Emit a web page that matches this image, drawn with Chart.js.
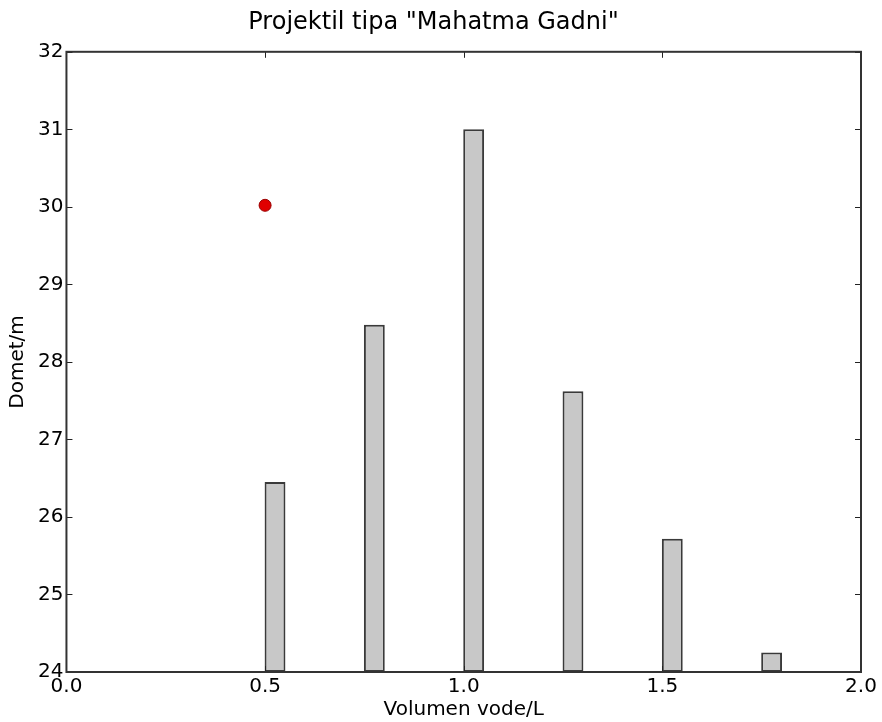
<!DOCTYPE html>
<html>
<head>
<meta charset="utf-8">
<script src="https://cdn.jsdelivr.net/npm/chart.js@4/dist/chart.umd.min.js"></script>
<style>
  html, body { margin: 0; padding: 0; background: #fff; }
  #wrap { width: 882px; height: 722px; }
</style>
</head>
<body>
<div id="wrap"><canvas id="myChart" width="882" height="722"></canvas></div>
<script>
// data
const barLefts = [0.5, 0.75, 1.0, 1.25, 1.5, 1.75];
const barWidth = 0.05;
const ranges = [26.45, 28.48, 31.0, 27.62, 25.72, 24.25];
const pointX = [0.5];
const pointY = [30.02];
const xTicks = [0.0, 0.5, 1.0, 1.5, 2.0];
const yTicks = [24, 25, 26, 27, 28, 29, 30, 31, 32];

const FONT = 'Verdana, "DejaVu Sans", sans-serif';

// matplotlib-like frame with inward ticks on all four sides
const frameTicks = {
  id: 'frameTicks',
  afterDatasetsDraw(chart) {
    const { ctx, chartArea: a, scales: { x, y } } = chart;
    const len = 6;
    ctx.save();
    ctx.strokeStyle = '#222';
    ctx.lineWidth = 1;
    ctx.beginPath();
    xTicks.forEach(v => {
      const px = Math.round(x.getPixelForValue(v)) + 0.5;
      ctx.moveTo(px, a.bottom); ctx.lineTo(px, a.bottom - len);
      ctx.moveTo(px, a.top); ctx.lineTo(px, a.top + len);
    });
    yTicks.forEach(v => {
      const py = Math.round(y.getPixelForValue(v)) + 0.5;
      ctx.moveTo(a.left, py); ctx.lineTo(a.left + len, py);
      ctx.moveTo(a.right, py); ctx.lineTo(a.right - len, py);
    });
    ctx.stroke();
    ctx.strokeStyle = '#333';
    ctx.lineWidth = 2;
    ctx.strokeRect(a.left, a.top, a.right - a.left, a.bottom - a.top);
    ctx.restore();
  }
};

const ctx = document.getElementById('myChart').getContext('2d');
new Chart(ctx, {
  type: 'bar',
  data: {
    datasets: [
      {
        type: 'scatter',
        data: pointX.map((v, i) => ({ x: v, y: pointY[i] })),
        backgroundColor: '#e00000',
        borderColor: '#9a0000',
        borderWidth: 1,
        pointRadius: 6,
        order: 0
      },
      {
        type: 'bar',
        data: barLefts.map((v, i) => ({ x: v + barWidth / 2, y: ranges[i] })),
        base: 24,
        backgroundColor: '#c8c8c8',
        borderColor: '#3a3a3a',
        borderWidth: 2,
        borderSkipped: false,
        categoryPercentage: 1,
        barPercentage: 0.21,
        order: 1
      }
    ]
  },
  options: {
    responsive: false,
    animation: false,
    layout: { padding: { left: 6, right: 21, top: 4, bottom: 0 } },
    plugins: {
      legend: { display: false },
      tooltip: { enabled: false },
      title: {
        display: true,
        text: 'Projektil tipa "Mahatma Gadni"',
        color: '#000',
        font: { family: FONT, size: 24, weight: 'normal' },
        padding: { top: 4, bottom: 15 }
      }
    },
    scales: {
      x: {
        type: 'linear',
        min: 0, max: 2,
        offset: false,
        grid: { display: false, drawTicks: false },
        border: { display: false },
        afterBuildTicks: s => { s.ticks = xTicks.map(v => ({ value: v })); },
        ticks: {
          color: '#000',
          padding: 3,
          maxRotation: 0,
          font: { family: FONT, size: 20 },
          callback: v => Number(v).toFixed(1)
        },
        title: {
          display: true,
          text: 'Volumen vode/L',
          color: '#000',
          font: { family: FONT, size: 20 },
          padding: { top: -4, bottom: 0 }
        }
      },
      y: {
        min: 24, max: 32,
        grid: { display: false, drawTicks: false },
        border: { display: false },
        afterBuildTicks: s => { s.ticks = yTicks.map(v => ({ value: v })); },
        ticks: {
          color: '#000',
          padding: 3,
          font: { family: FONT, size: 20 }
        },
        title: {
          display: true,
          text: 'Domet/m',
          color: '#000',
          font: { family: FONT, size: 20 },
          padding: { top: 0, bottom: 5 }
        }
      }
    }
  },
  plugins: [frameTicks]
});
</script>
</body>
</html>
